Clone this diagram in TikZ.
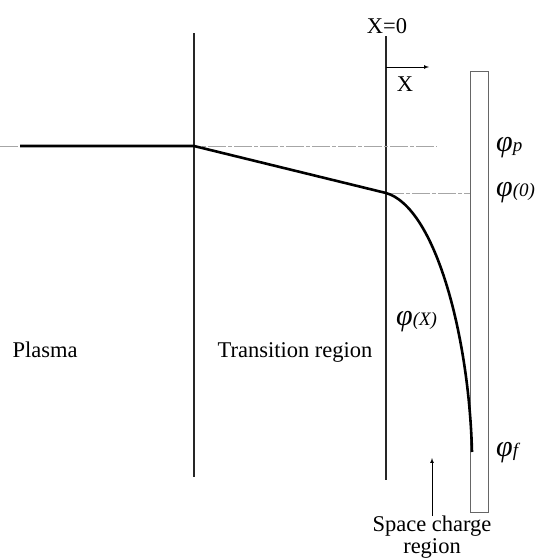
\documentclass[tikz,border=0pt]{standalone}
\usepackage{fontspec}
\setmainfont{Liberation Serif}

\tikzstyle{every node}=[inner sep=0pt, font={\fontsize{22.5}{22}\selectfont}]
\tikzstyle{wall}=[line width=1.1pt, draw=black!85]
\tikzstyle{level}=[line width=0.8pt, draw=black!35, dash pattern=on 18pt off 2pt on 4pt off 2pt]
\tikzstyle{potential}=[line width=2.6pt, line join=round]
\tikzstyle{electrode}=[line width=0.8pt, draw=black!60]
\tikzstyle{pointer}=[-latex, line width=0.7pt]
\tikzstyle{phi}=[anchor=west]
\newcommand{\philabel}[1]{{\fontsize{30}{30}\selectfont\itshape φ}{\fontsize{19}{19}\selectfont\itshape #1}}

\begin{document}
\begin{tikzpicture}[x=1pt, y=-1pt]
    \useasboundingbox (0,0) rectangle (547,560);

    \coordinate (wallA top) at (194,33);
    \coordinate (wallA bottom) at (194,477);
    \coordinate (wallB top) at (386,36);
    \coordinate (wallB bottom) at (386,480);
    \draw [wall] (wallA top) -- (wallA bottom);
    \draw [wall] (wallB top) -- (wallB bottom);

    \draw [electrode] (470,71) rectangle (488,512);

    \coordinate (plasma start) at (20,146);
    \coordinate (sheath edge) at (194,146);
    \coordinate (origin) at (386,193);
    \coordinate (floating) at (472,452);
    \draw [level] (0,146) -- (437,146);
    \draw [level] (origin) -- (470,193);
    \draw [potential] (plasma start) -- (sheath edge) -- (origin)
        .. controls (435,207) and (469,335) .. (floating);

    \node (xzero) at (387,26) {X=0};
    \coordinate (axis start) at (386,67);
    \coordinate (axis end) at (429,67);
    \draw [pointer] (axis start) -- (axis end);
    \node (xaxis) at (405,84) {X};

    \node [phi] (phip) at (496,148) {\philabel{p}};
    \node [phi] (phizero) at (496,193) {\philabel{(0)}};
    \node [phi] (phix) at (396,322) {\philabel{(X)}};
    \node [phi] (phif) at (496,453) {\philabel{f}};

    \node [anchor=base] (plasma) at (45,357) {Plasma};
    \node [anchor=base] (transition) at (295,357) {Transition region};
    \node [anchor=north, align=center] (space) at (432,516) {Space charge\\region};
    \draw [pointer] (space.north) -- (space.north |- 0,458);
\end{tikzpicture}
\end{document}
